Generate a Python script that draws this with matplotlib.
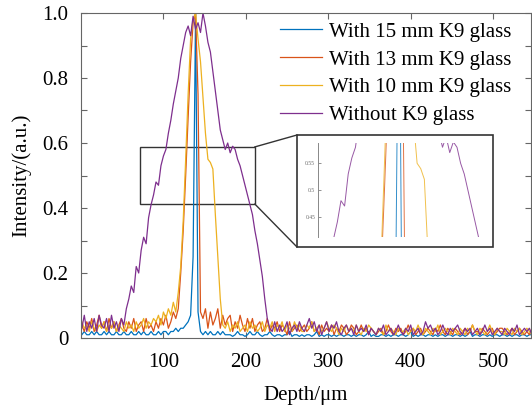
import numpy as np
import matplotlib
matplotlib.use('Agg')
import matplotlib.pyplot as plt
from matplotlib.patches import Rectangle
from matplotlib.lines import Line2D

plt.rcParams['font.family'] = ['Liberation Serif', 'DejaVu Serif']

# 깊이 격자 (um), 3 um 간격
depth = np.arange(1, 548, 3)

labels = ['With 15 mm K9 glass', 'With 13 mm K9 glass',
          'With 10 mm K9 glass', 'Without K9 glass']
colors = ['#0072BD', '#D95319', '#EDB120', '#7E2F8E']

# 15 mm
blue = [0.01, 0.02, 0.01, 0.01, 0.02, 0.01, 0.02, 0.01, 0.01, 0.02,
        0.01, 0.02, 0.01, 0.01, 0.02, 0.01, 0.01, 0.02, 0.01, 0.01,
        0.02, 0.01, 0.01, 0.02, 0.01, 0.02, 0.01, 0.01, 0.02, 0.01,
        0.01, 0.02, 0.01, 0.02, 0.02, 0.01, 0.02, 0.02, 0.03, 0.02,
        0.03, 0.03, 0.04, 0.05, 0.07, 0.25, 1.00, 0.08, 0.02, 0.01,
        0.02, 0.01, 0.02, 0.01, 0.01, 0.02, 0.01, 0.02, 0.01, 0.01,
        0.01, 0.005, 0.01, 0.02, 0.01, 0.01, 0.005, 0.01, 0.02, 0.01,
        0.01, 0.02, 0.01, 0.005, 0.01, 0.01, 0.02, 0.01, 0.005, 0.01,
        0.01, 0.005, 0.01, 0.01, 0.02, 0.005, 0.01, 0.01, 0.005, 0.01,
        0.005, 0.01, 0.01, 0.005, 0.01, 0.02, 0.005, 0.01, 0.005, 0.01,
        0.01, 0.005, 0.01, 0.005, 0.01, 0.01, 0.005, 0.01, 0.01, 0.005,
        0.01, 0.005, 0.01, 0.01, 0.005, 0.01, 0.02, 0.005, 0.01, 0.005,
        0.005, 0.01, 0.01, 0.005, 0.01, 0.005, 0.01, 0.01, 0.005, 0.01,
        0.01, 0.005, 0.01, 0.02, 0.005, 0.01, 0.005, 0.01, 0.01, 0.005,
        0.01, 0.01, 0.005, 0.01, 0.005, 0.01, 0.01, 0.005, 0.01, 0.01,
        0.005, 0.01, 0.01, 0.005, 0.01, 0.005, 0.01, 0.02, 0.005, 0.01,
        0.01, 0.005, 0.01, 0.01, 0.005, 0.01, 0.005, 0.01, 0.01, 0.005,
        0.01, 0.01, 0.005, 0.01, 0.005, 0.01, 0.01, 0.005, 0.01, 0.01,
        0.005, 0.01, 0.01]

# 13 mm
red = [0.04, 0.02, 0.05, 0.03, 0.06, 0.02, 0.04, 0.07, 0.03, 0.05,
       0.02, 0.06, 0.03, 0.05, 0.02, 0.04, 0.06, 0.03, 0.02, 0.05,
       0.03, 0.06, 0.02, 0.04, 0.05, 0.02, 0.06, 0.03, 0.04, 0.02,
       0.05, 0.03, 0.06, 0.04, 0.07, 0.03, 0.05, 0.08, 0.06, 0.09,
       0.20, 0.33, 0.50, 0.68, 0.85, 0.97, 1.00, 0.75, 0.08, 0.06,
       0.09, 0.03, 0.08, 0.04, 0.06, 0.09, 0.03, 0.07, 0.04, 0.06,
       0.07, 0.02, 0.05, 0.03, 0.07, 0.04, 0.02, 0.06, 0.03, 0.06,
       0.02, 0.04, 0.05, 0.02, 0.03, 0.06, 0.02, 0.04, 0.03, 0.05,
       0.02, 0.04, 0.03, 0.01, 0.05, 0.02, 0.03, 0.04, 0.02, 0.03,
       0.04, 0.02, 0.03, 0.05, 0.02, 0.03, 0.01, 0.04, 0.02, 0.03,
       0.02, 0.04, 0.01, 0.03, 0.02, 0.04, 0.03, 0.01, 0.02, 0.04,
       0.03, 0.01, 0.02, 0.04, 0.02, 0.03, 0.01, 0.03, 0.02, 0.01,
       0.02, 0.03, 0.01, 0.02, 0.04, 0.02, 0.01, 0.03, 0.02, 0.03,
       0.01, 0.02, 0.04, 0.02, 0.03, 0.01, 0.02, 0.03, 0.01, 0.02,
       0.03, 0.02, 0.01, 0.03, 0.02, 0.04, 0.02, 0.01, 0.03, 0.02,
       0.01, 0.03, 0.02, 0.01, 0.02, 0.03, 0.01, 0.02, 0.04, 0.02,
       0.02, 0.01, 0.03, 0.02, 0.01, 0.02, 0.03, 0.01, 0.02, 0.03,
       0.03, 0.02, 0.01, 0.02, 0.03, 0.01, 0.02, 0.03, 0.02, 0.01,
       0.02, 0.01, 0.03]

# 10 mm
yellow = [0.05, 0.03, 0.04, 0.02, 0.05, 0.03, 0.02, 0.04, 0.03, 0.05,
          0.02, 0.04, 0.03, 0.05, 0.02, 0.04, 0.03, 0.02, 0.05, 0.03,
          0.04, 0.02, 0.05, 0.03, 0.04, 0.06, 0.03, 0.05, 0.04, 0.06,
          0.05, 0.07, 0.04, 0.08, 0.06, 0.09, 0.07, 0.11, 0.08, 0.14,
          0.22, 0.36, 0.55, 0.75, 0.92, 0.98, 1.00, 0.92, 0.85, 0.74,
          0.63, 0.55, 0.54, 0.52, 0.38, 0.25, 0.12, 0.04, 0.03, 0.05,
          0.02, 0.04, 0.03, 0.05, 0.02, 0.03, 0.04, 0.02, 0.05, 0.03,
          0.04, 0.02, 0.03, 0.05, 0.02, 0.04, 0.03, 0.05, 0.02, 0.04,
          0.03, 0.05, 0.02, 0.04, 0.03, 0.02, 0.05, 0.03, 0.04, 0.02,
          0.02, 0.04, 0.03, 0.05, 0.02, 0.03, 0.04, 0.02, 0.03, 0.05,
          0.03, 0.02, 0.04, 0.03, 0.01, 0.03, 0.02, 0.04, 0.02, 0.03,
          0.02, 0.04, 0.02, 0.01, 0.03, 0.02, 0.04, 0.03, 0.02, 0.01,
          0.03, 0.02, 0.01, 0.04, 0.02, 0.03, 0.02, 0.01, 0.03, 0.02,
          0.02, 0.03, 0.01, 0.02, 0.03, 0.02, 0.04, 0.02, 0.01, 0.03,
          0.02, 0.01, 0.03, 0.02, 0.04, 0.01, 0.02, 0.03, 0.02, 0.01,
          0.03, 0.02, 0.01, 0.03, 0.02, 0.01, 0.03, 0.02, 0.04, 0.02,
          0.01, 0.03, 0.02, 0.01, 0.02, 0.04, 0.02, 0.01, 0.03, 0.02,
          0.02, 0.01, 0.03, 0.02, 0.01, 0.03, 0.02, 0.03, 0.01, 0.02,
          0.03, 0.02, 0.01]

# K9 없음
purple = [0.03, 0.07, 0.02, 0.05, 0.03, 0.06, 0.02, 0.07, 0.04, 0.03,
          0.06, 0.02, 0.07, 0.03, 0.05, 0.02, 0.06, 0.04, 0.09, 0.12,
          0.16, 0.14, 0.22, 0.20, 0.27, 0.31, 0.29, 0.37, 0.41, 0.44,
          0.48, 0.47, 0.53, 0.56, 0.58, 0.63, 0.67, 0.72, 0.76, 0.80,
          0.86, 0.90, 0.94, 0.96, 0.93, 0.99, 0.95, 0.97, 0.94, 1.00,
          0.96, 0.91, 0.88, 0.82, 0.76, 0.70, 0.64, 0.61, 0.58, 0.60,
          0.57, 0.59, 0.58, 0.55, 0.53, 0.50, 0.47, 0.44, 0.41, 0.38,
          0.33, 0.29, 0.24, 0.19, 0.12, 0.06, 0.03, 0.02, 0.05, 0.02,
          0.04, 0.02, 0.03, 0.05, 0.01, 0.03, 0.04, 0.02, 0.05, 0.03,
          0.02, 0.04, 0.06, 0.03, 0.05, 0.02, 0.04, 0.01, 0.03, 0.05,
          0.02, 0.04, 0.03, 0.05, 0.02, 0.01, 0.03, 0.04, 0.02, 0.03,
          0.01, 0.04, 0.02, 0.03, 0.02, 0.04, 0.01, 0.03, 0.02, 0.01,
          0.03, 0.02, 0.04, 0.01, 0.02, 0.03, 0.01, 0.02, 0.04, 0.02,
          0.01, 0.03, 0.02, 0.04, 0.01, 0.02, 0.03, 0.01, 0.02, 0.05,
          0.03, 0.04, 0.02, 0.03, 0.01, 0.02, 0.04, 0.02, 0.01, 0.03,
          0.02, 0.03, 0.04, 0.02, 0.01, 0.03, 0.02, 0.03, 0.01, 0.02,
          0.03, 0.01, 0.02, 0.04, 0.02, 0.03, 0.01, 0.02, 0.03, 0.02,
          0.01, 0.03, 0.02, 0.01, 0.03, 0.02, 0.04, 0.01, 0.02, 0.03,
          0.02, 0.03, 0.01]

series = [blue, red, yellow, purple]

# 확대 영역
zoom_x = (72, 211)
zoom_y = (0.412, 0.588)

W, H = 532, 407
fig = plt.figure(figsize=(W / 100, H / 100), dpi=100)
ax = fig.add_axes([81 / W, (H - 338) / H, (531 - 81) / W, (338 - 13) / H])

for y, c, lab in zip(series, colors, labels):
    ax.plot(depth[:len(y)], y, color=c, lw=0.9, label=lab)

ax.set_xlim(0, 546)
ax.set_ylim(0, 1.0)
ax.set_xticks([100, 200, 300, 400, 500])
ax.set_yticks(np.arange(0, 1.01, 0.1))
ax.set_yticklabels(['0', '', '0.2', '', '0.4', '', '0.6', '', '0.8', '', '1.0'])
ax.tick_params(direction='in', top=True, right=True, length=4, width=0.8,
               color='#666666', labelsize=15)
ax.tick_params(axis='x', pad=11)
ax.tick_params(axis='y', pad=9)
for s in ax.spines.values():
    s.set_color('#666666')
    s.set_linewidth(0.8)
ax.set_xlabel('Depth/\u03bcm', fontsize=15, labelpad=10)
ax.set_ylabel('Intensity/(a.u.)', fontsize=15, labelpad=8)

fig.legend(loc='upper left', bbox_to_anchor=(280 / W, (H - 22) / H),
           frameon=False, fontsize=15, handlelength=2.0, handletextpad=0.35,
           labelspacing=0.4, borderpad=0, borderaxespad=0)

# 확대 사각형
ax.add_patch(Rectangle((zoom_x[0], zoom_y[0]), zoom_x[1] - zoom_x[0],
                       zoom_y[1] - zoom_y[0], fill=False, ec='#333333', lw=1.0))

# 인셋 틀
fx0, fx1 = 297 / W, 493 / W
fy0, fy1 = (H - 247) / H, (H - 135) / H
fig.add_artist(Rectangle((fx0, fy0), fx1 - fx0, fy1 - fy0, transform=fig.transFigure,
                         fill=True, fc='white', ec='#333333', lw=1.2, zorder=5))

# 연결선
tr = ax.transData + fig.transFigure.inverted()
p_top = tr.transform((zoom_x[1], zoom_y[1]))
p_bot = tr.transform((zoom_x[1], zoom_y[0]))
fig.add_artist(Line2D([p_top[0], fx0], [p_top[1], fy1], transform=fig.transFigure,
                      color='#333333', lw=1.0, zorder=5))
fig.add_artist(Line2D([p_bot[0], fx0], [p_bot[1], fy0], transform=fig.transFigure,
                      color='#333333', lw=1.0, zorder=5))

# 인셋
axi = fig.add_axes([318 / W, (H - 237) / H, (486 - 318) / W, (237 - 143) / H], zorder=6)
for y, c in zip(series, colors):
    axi.plot(depth[:len(y)], y, color=c, lw=0.7, alpha=0.8)
axi.set_xlim(*zoom_x)
axi.set_ylim(*zoom_y)
axi.set_xticks([])
axi.set_yticks([0.45, 0.5, 0.55])
axi.set_yticklabels(['0.45', '0.5', '0.55'])
axi.tick_params(axis='y', direction='in', length=2, width=0.5, labelsize=4,
                colors='#666666', pad=2)
for k in ['top', 'right', 'bottom']:
    axi.spines[k].set_visible(False)
axi.spines['left'].set_color('#888888')
axi.spines['left'].set_linewidth(0.7)
axi.patch.set_alpha(0)

fig.savefig('out.png', dpi=100)
